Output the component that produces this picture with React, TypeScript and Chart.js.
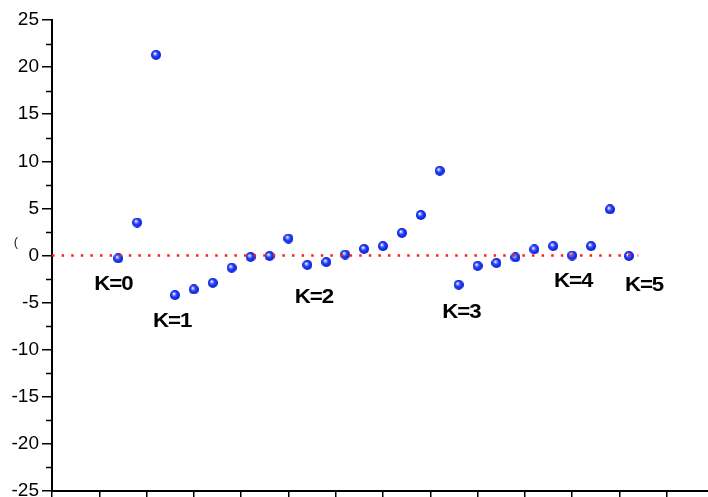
import React, { useEffect, useRef } from "react";
import { Chart, registerables } from "chart.js";

Chart.register(...registerables);

// Sample positions along the horizontal axis and the measured residuals
const sampleX = [7, 9, 11, 13, 15, 17, 19, 21, 23, 25, 27, 29, 31, 33, 35, 37, 39, 41, 43, 45, 47, 49, 51, 53, 55, 57, 59, 61];
const residuals = [-0.3, 3.5, 21.3, -4.2, -3.6, -2.9, -1.3, -0.15, -0.05, 1.8, -1.0, -0.7, 0.1, 0.7, 1.0, 2.4, 4.3, 9.0, -3.1, -1.1, -0.8, -0.2, 0.65, 1.0, 0.0, 1.0, 4.9, -0.05];

// Zero reference line span
const zeroLineX = [0, 62];
const zeroLineY = [0, 0];

// Group annotations (in data units)
const groupLabels = ["K=0", "K=1", "K=2", "K=3", "K=4", "K=5"];
const groupLabelX = [6.5, 12.7, 27.7, 43.3, 55.1, 62.6];
const groupLabelY = [-3.0, -6.95, -4.4, -5.97, -2.74, -3.13];

const AXIS_FONT = "'Liberation Sans', Arial, sans-serif";

function makeSphere(d: number): HTMLCanvasElement {
  const c = document.createElement("canvas");
  c.width = d;
  c.height = d;
  const g = c.getContext("2d")!;
  const r = d / 2;
  const grad = g.createRadialGradient(r - 1.3, r - 1.5, 0.2, r, r, r);
  grad.addColorStop(0, "#ffffff");
  grad.addColorStop(0.22, "#9aa8ff");
  grad.addColorStop(0.45, "#2c48ff");
  grad.addColorStop(0.85, "#0a22e6");
  grad.addColorStop(1, "#0a18b0");
  g.fillStyle = grad;
  g.beginPath();
  g.arc(r, r, r, 0, Math.PI * 2);
  g.fill();
  return c;
}

const minorTicksPlugin = {
  id: "minorTicks",
  afterDraw(chart: any) {
    const y = chart.scales.y;
    const ctx = chart.ctx;
    const left = chart.chartArea.left;
    ctx.save();
    ctx.strokeStyle = "#000";
    ctx.lineWidth = 1.5;
    for (let v = y.min + 2.5; v < y.max; v += 5) {
      const py = Math.round(y.getPixelForValue(v)) + 0.5;
      ctx.beginPath();
      ctx.moveTo(left - 6, py);
      ctx.lineTo(left, py);
      ctx.stroke();
    }
    ctx.restore();
  },
};

const groupLabelPlugin = {
  id: "groupLabels",
  afterDatasetsDraw(chart: any) {
    const { ctx, scales } = chart;
    ctx.save();
    ctx.fillStyle = "#000";
    ctx.font = `bold 21px ${AXIS_FONT}`;
    ctx.textAlign = "center";
    ctx.textBaseline = "middle";
    groupLabels.forEach((t, i) => {
      const px = scales.x.getPixelForValue(groupLabelX[i]);
      const py = scales.y.getPixelForValue(groupLabelY[i]);
      ctx.save();
      ctx.translate(px, py);
      ctx.scale(1.06, 1);
      (ctx as any).letterSpacing = "-1px";
      ctx.fillText(t, 0, 0);
      ctx.restore();
    });
    // fragment of the vertical axis title at the left edge
    ctx.font = `13px ${AXIS_FONT}`;
    ctx.fillStyle = "#222";
    ctx.fillText("(", 16, 242);
    ctx.restore();
  },
};

export default function App() {
  const ref = useRef<HTMLCanvasElement>(null);

  useEffect(() => {
    const canvas = ref.current!;
    const sphere = makeSphere(10);
    const chart = new Chart(canvas, {
      type: "scatter",
      data: {
        datasets: [
          {
            type: "line",
            data: zeroLineX.map((x, i) => ({ x, y: zeroLineY[i] })),
            borderColor: "#ff2010",
            borderWidth: 2.5,
            borderDash: [2.5, 7.1],
            borderCapStyle: "butt",
            pointRadius: 0,
            showLine: true,
            fill: false,
          } as any,
          {
            data: sampleX.map((x, i) => ({ x, y: residuals[i] })),
            pointStyle: sphere as any,
            pointRadius: 5,
            showLine: false,
          },
        ],
      },
      options: {
        animation: false,
        responsive: false,
        events: [],
        layout: { padding: { top: 20, right: 6, left: 0, bottom: 0 } },
        plugins: { legend: { display: false }, tooltip: { enabled: false } },
        scales: {
          x: {
            type: "linear",
            min: 0,
            max: 70,
            ticks: { display: false, stepSize: 5 },
            grid: {
              display: true,
              drawOnChartArea: false,
              drawTicks: true,
              tickLength: 10,
              color: "#000",
              lineWidth: 1.5,
            },
            border: { display: true, color: "#000", width: 2 },
            afterFit(scale: any) {
              scale.height = 29;
            },
          },
          y: {
            type: "linear",
            min: -25,
            max: 25,
            ticks: {
              stepSize: 5,
              color: "#000",
              padding: 3,
              font: { family: AXIS_FONT, size: 19 },
            },
            grid: {
              display: true,
              drawOnChartArea: false,
              drawTicks: true,
              tickLength: 10,
              color: "#000",
              lineWidth: 1.5,
            },
            border: { display: true, color: "#000", width: 2 },
            afterFit(scale: any) {
              scale.width = 52;
            },
          },
        },
      },
      plugins: [minorTicksPlugin, groupLabelPlugin],
    });
    return () => chart.destroy();
  }, []);

  return (
    <div
      style={{
        position: "fixed",
        left: 0,
        top: 0,
        width: 708,
        height: 497,
        overflow: "hidden",
        background: "#fff",
      }}
    >
      <canvas ref={ref} width={720} height={520} style={{ display: "block", width: 720, height: 520 }} />
    </div>
  );
}
